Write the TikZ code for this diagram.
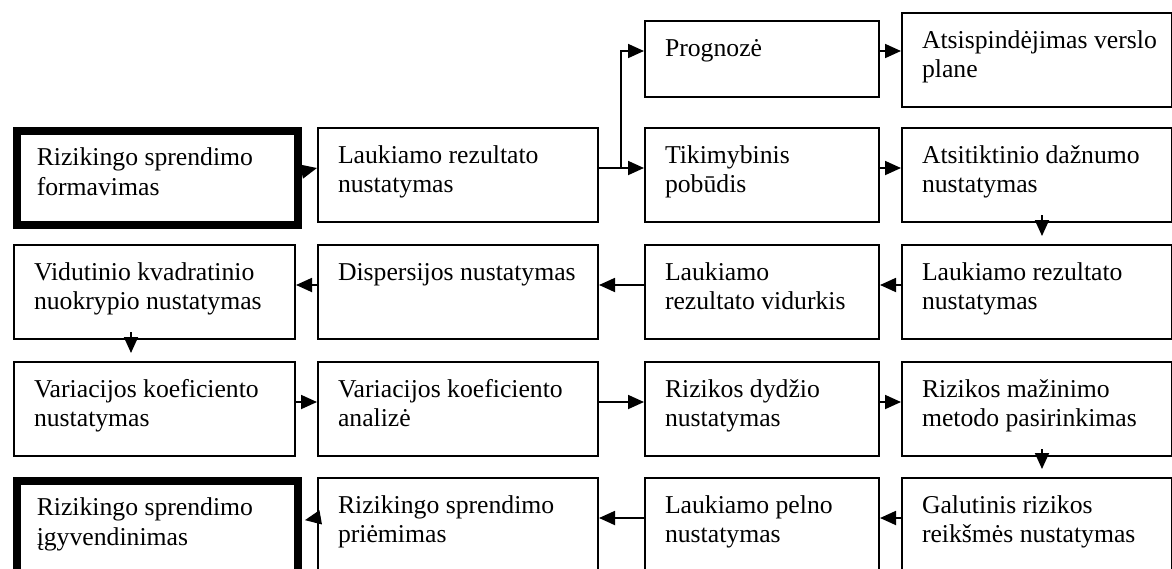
\documentclass[tikz,border=0pt]{standalone}
\usepackage{fontspec}
\setmainfont{Liberation Serif}
\usetikzlibrary{arrows.meta}
\newcommand{\bxtxt}[3]{\parbox[t][#1pt][t]{#2pt}{\raggedright\hyphenpenalty=10000 \strut #3}}
\begin{document}
\begin{tikzpicture}[x=1pt,y=-1pt,
  bx/.style={draw, line width=2pt, anchor=north west, inner xsep=20pt, inner ysep=14.35pt,
    font=\fontsize{25.7}{29.5}\selectfont},
  thickbx/.style={bx, line width=7.5pt},
  arr/.style={line width=1.8pt, -{Triangle[length=16pt,width=14pt]}}]
\useasboundingbox (0,0) rectangle (1172,568);
\clip (0,0) rectangle (1172,568);
% row 0
\node[bx] (prog) at (644,20) {\bxtxt{47.3}{194}{Prognozė}};
\node[bx] (atsi) at (901,12) {\bxtxt{65.3}{230}{\mbox{Atsispindėjimas verslo}\\plane}};
% row 1
\node[thickbx] (form) at (13,127) {\bxtxt{65.3}{241}{Rizikingo sprendimo\\formavimas}};
\node[bx] (lauka) at (317,127) {\bxtxt{65.3}{240}{Laukiamo rezultato\\nustatymas}};
\node[bx] (tik) at (644,127) {\bxtxt{65.3}{194}{Tikimybinis\\pobūdis}};
\node[bx] (atsit) at (901,127) {\bxtxt{65.3}{230}{Atsitiktinio dažnumo\\nustatymas}};
% row 2
\node[bx] (vidut) at (13,244) {\bxtxt{65.3}{241}{Vidutinio kvadratinio\\nuokrypio nustatymas}};
\node[bx] (disp) at (317,244) {\bxtxt{65.3}{240}{Dispersijos nustatymas}};
\node[bx] (vidurk) at (644,244) {\bxtxt{65.3}{194}{Laukiamo\\rezultato vidurkis}};
\node[bx] (laukb) at (901,244) {\bxtxt{65.3}{230}{Laukiamo rezultato\\nustatymas}};
% row 3
\node[bx] (vara) at (13,361) {\bxtxt{65.3}{241}{Variacijos koeficiento\\nustatymas}};
\node[bx] (varb) at (317,361) {\bxtxt{65.3}{240}{Variacijos koeficiento\\analizė}};
\node[bx] (riz) at (644,361) {\bxtxt{65.3}{194}{Rizikos dydžio\\nustatymas}};
\node[bx] (maz) at (901,361) {\bxtxt{65.3}{230}{Rizikos mažinimo\\metodo pasirinkimas}};
% row 4
\node[thickbx] (igyv) at (13,477) {\bxtxt{65.3}{241}{Rizikingo sprendimo\\įgyvendinimas}};
\node[bx] (priem) at (317,477) {\bxtxt{65.3}{240}{Rizikingo sprendimo\\priėmimas}};
\node[bx] (pelno) at (644,477) {\bxtxt{65.3}{194}{Laukiamo pelno\\nustatymas}};
\node[bx] (gal) at (901,477) {\bxtxt{65.3}{230}{Galutinis rizikos\\reikšmės nustatymas}};
% connectors row 0/1
\coordinate (br) at (621,167);
\draw[arr] ([yshift=8pt]prog.east) -- ([yshift=8pt]prog.east -| atsi.west);
\draw[arr] ([yshift=7pt,xshift=3.5pt]form.east) -- ([yshift=7pt]lauka.west);
\draw[arr] ([yshift=7pt]lauka.east) -- ([yshift=7pt]tik.west);
\draw[arr] (br) |- ([yshift=8pt]prog.west);
\draw[arr] ([yshift=7pt]tik.east) -- ([yshift=7pt]atsit.west);
\draw[arr] ([xshift=5pt,yshift=8pt]atsit.south) -- ([xshift=5pt,yshift=8pt]laukb.north);
% row 2
\draw[arr] ([yshift=7pt]laukb.west) -- ([yshift=7pt]vidurk.east);
\draw[arr] ([yshift=7pt]vidurk.west) -- ([yshift=7pt]disp.east);
\draw[arr] ([yshift=7pt]disp.west) -- ([yshift=7pt]vidut.east);
\draw[arr] ([xshift=-23.5pt,yshift=8pt]vidut.south) -- ([xshift=-23.5pt,yshift=8pt]vara.north);
% row 3
\draw[arr] ([yshift=7pt]vara.east) -- ([yshift=7pt]varb.west);
\draw[arr] ([yshift=7pt]varb.east) -- ([yshift=7pt]riz.west);
\draw[arr] ([yshift=7pt]riz.east) -- ([yshift=7pt]maz.west);
\draw[arr] ([xshift=5pt,yshift=8pt]maz.south) -- ([xshift=5pt,yshift=8pt]gal.north);
% row 4
\draw[arr] ([yshift=7pt]gal.west) -- ([yshift=7pt]pelno.east);
\draw[arr] ([yshift=7pt]pelno.west) -- ([yshift=7pt]priem.east);
\draw[arr, shorten >=3.5pt] ([yshift=7pt]priem.west) -- ([yshift=7pt]igyv.east);
\end{tikzpicture}
\end{document}
